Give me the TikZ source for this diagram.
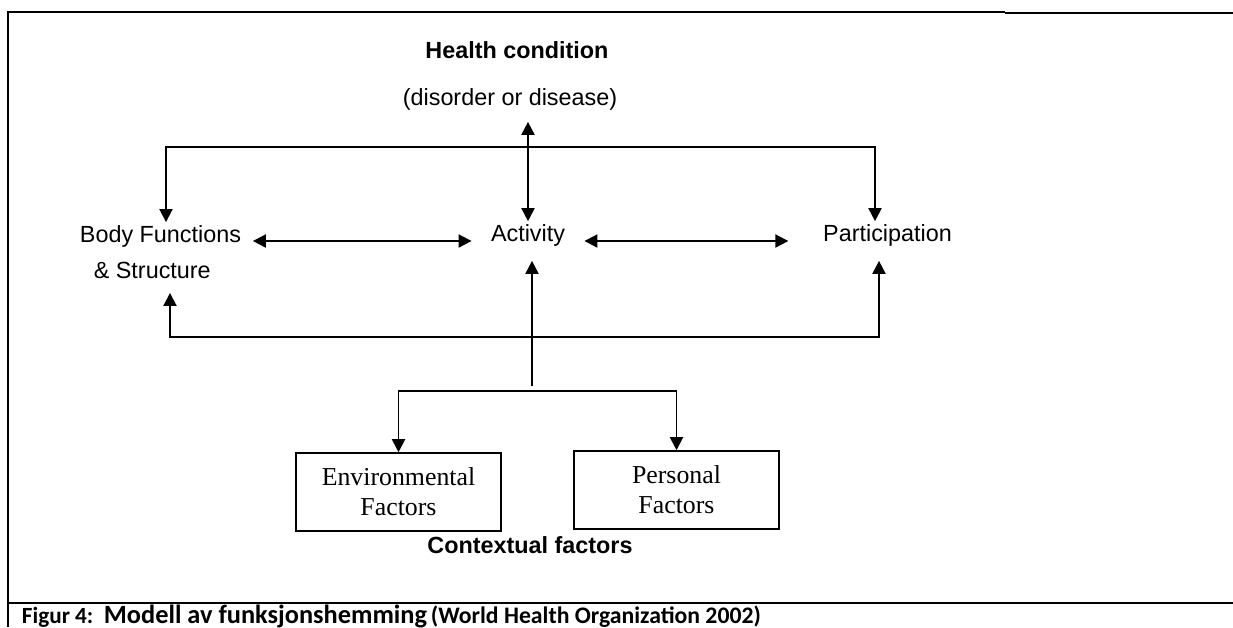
\documentclass[tikz,border=0pt]{standalone}
\usepackage{fontspec}
\setmainfont{Liberation Serif}
\setsansfont{Liberation Sans}
\newfontfamily\capfont{Carlito}
\usetikzlibrary{arrows.meta,calc}

\tikzset{
    lbl/.style={font=\sffamily\fontsize{13.3}{16}\selectfont, inner sep=1.7pt},
    boldlbl/.style={lbl, font=\sffamily\bfseries\fontsize{13.3}{16}\selectfont},
    rowlbl/.style={lbl, inner ysep=1.7pt, text height=9.6pt, text depth=8.5pt},
    factorbox/.style={draw, align=center, minimum width=116.2pt, minimum height=44.2pt,
        font=\rmfamily\fontsize{14.7}{17}\selectfont, inner sep=0pt}
}

\begin{document}
\begin{tikzpicture}[x=0.02cm, y=-0.02cm, line width=1.1pt,
    >={Triangle[length=7.4pt,width=7.4pt]}]
    \useasboundingbox (0,0) rectangle (1233,627);
    \clip (0,0) rectangle (1233,627);

    % frame
    \draw[line width=1.2pt] (8,627) -- (8,12) -- (1005,12);
    \draw[line width=1.6pt] (1005,13) -- (1233,13);
    \draw[line width=1.4pt] (8,603) -- (1233,603);

    % top
    \node[boldlbl] (hc) at (517,50) {Health condition};
    \node[lbl] (dis) at (510,99) {(disorder or disease)};

    % middle row
    \node[lbl, align=left, inner xsep=6.2pt, font=\sffamily\fontsize{13.3}{20.4}\selectfont]
        (bf) at (160.5,252.5) {Body Functions\\\hspace*{7.9pt}\& Structure};
    \node[rowlbl, inner xsep=10.5pt] (act) at (528,241) {Activity};
    \node[rowlbl, inner xsep=19.3pt] (part) at (887.5,241) {Participation};

    % bottom
    \node[factorbox] (env) at (398.5,492) {Environmental\\Factors};
    \node[factorbox] (pers) at (676.5,490) {Personal\\Factors};
    \node[boldlbl] (ctx) at (530,545) {Contextual factors};

    \coordinate (hub) at (528,147);
    \coordinate (low) at (532,337);
    \coordinate (split) at (532,391);

    \draw[<->] ($(act.north |- dis.south)+(0,8)$) -- (act.north);
    \draw[<->] ($(bf.north)+(5.5,0)$) |- (hub) -| ($(part.north)+(-12.5,0)$);
    \draw[<->] (bf.east |- act.west) -- (act.west);
    \draw[<->] (act.east) -- (part.west);
    \draw[<->] ($(bf.south)+(9.5,10)$) |- (low) -| ($(part.south)+(-8.5,0)$);
    \draw[->] ($(split)+(0,-5)$) -- (act.south -| split);
    \draw[->] (split) -| (env.north);
    \draw[->] (split) -| (pers.north);

    % caption
    \node[anchor=base west, inner sep=0pt, font=\capfont\bfseries] (cap) at (21,623)
        {{\fontsize{13.2}{15}\selectfont Figur 4:}\hspace{6pt}{\fontsize{15}{17}\selectfont Modell av funksjonshemming} {\fontsize{13.5}{15}\selectfont (World Health Organization 2002)}};
\end{tikzpicture}
\end{document}
